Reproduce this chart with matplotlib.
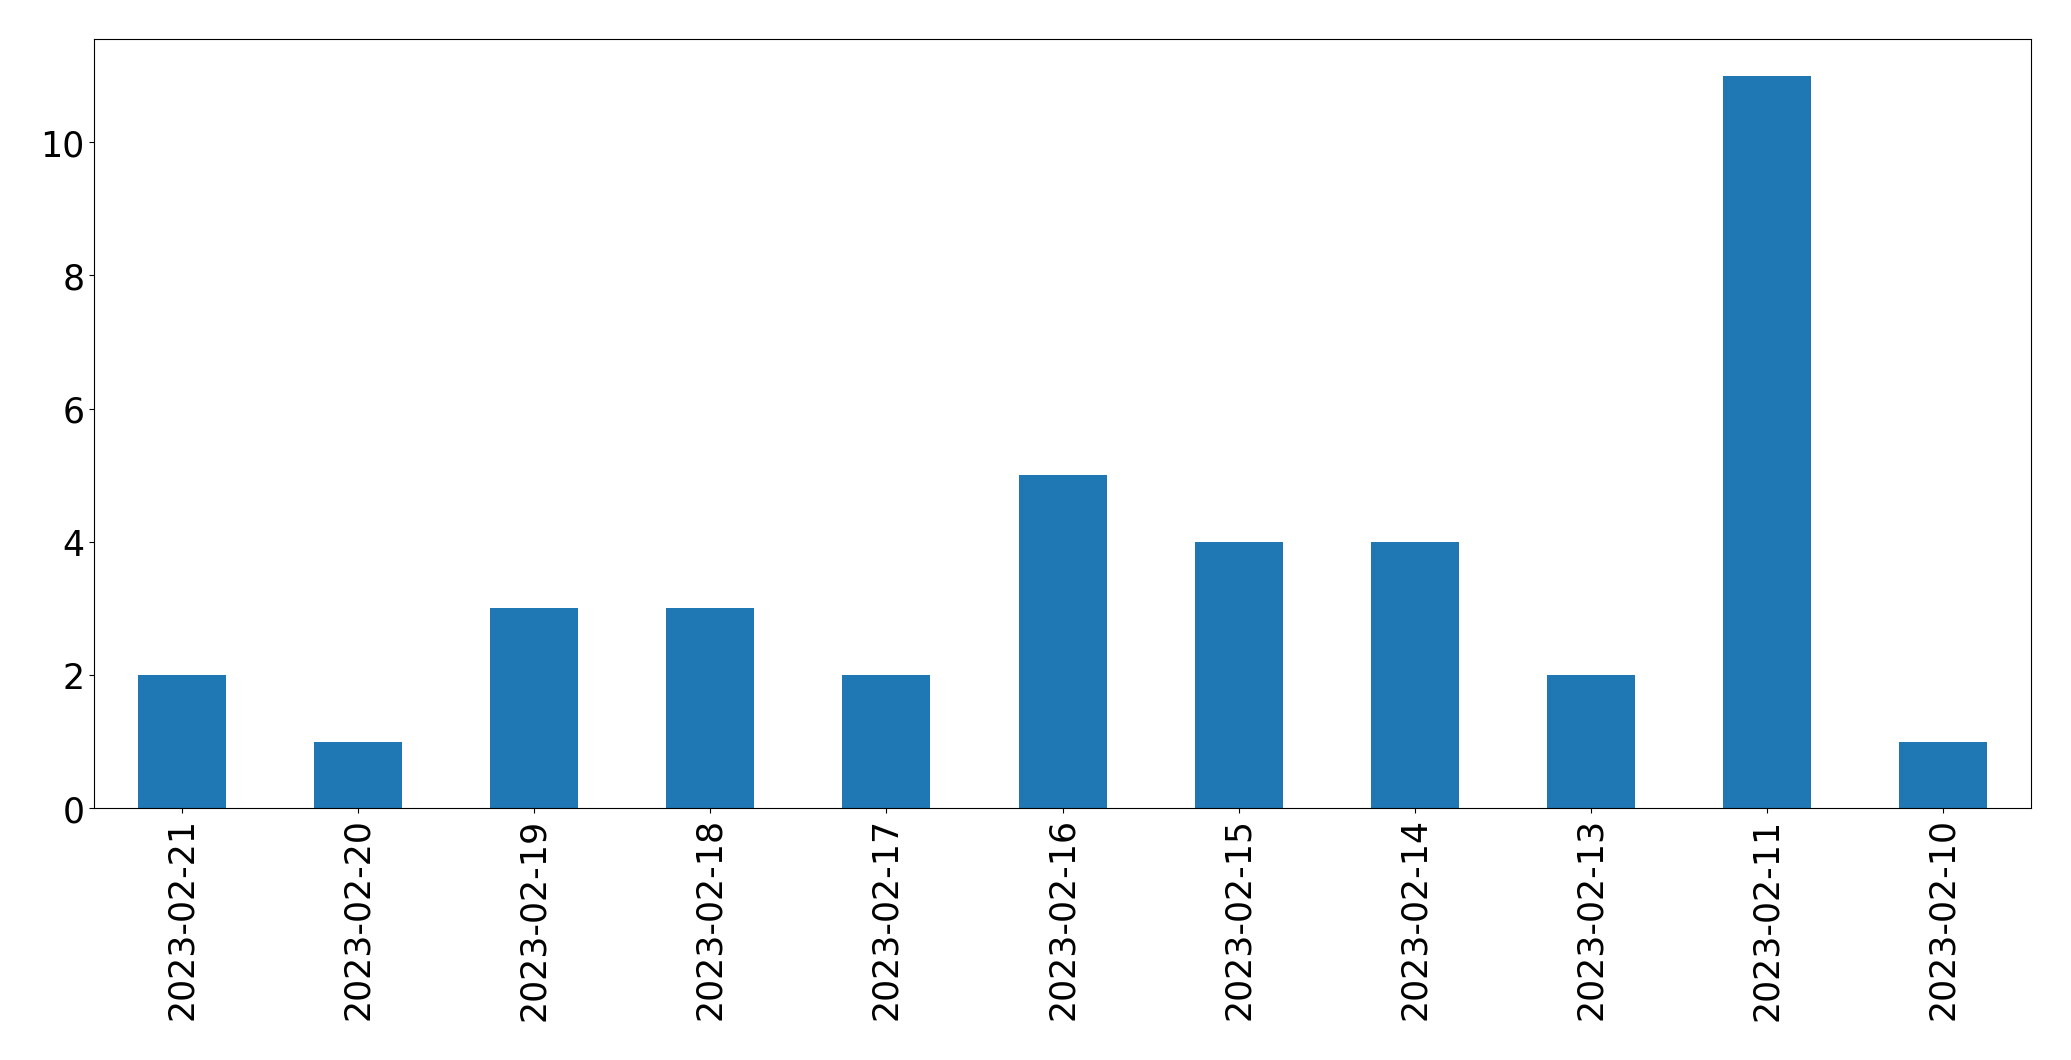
import matplotlib.pyplot as plt
import pandas as pd

# Daily counts, in the order shown
dates = ['2023-02-21', '2023-02-20', '2023-02-19', '2023-02-18', '2023-02-17',
         '2023-02-16', '2023-02-15', '2023-02-14', '2023-02-13', '2023-02-11',
         '2023-02-10']
counts = [2, 1, 3, 3, 2, 5, 4, 4, 2, 11, 1]

series = pd.Series(counts, index=dates)

fig = plt.figure(figsize=(20.71, 10.605), dpi=100)
ax = fig.add_axes([0.0454, 0.2375, 0.9353, 0.7253])
series.plot(kind='bar', ax=ax, fontsize=25, color='#1f77b4')

fig.savefig('out.png', dpi=100)
